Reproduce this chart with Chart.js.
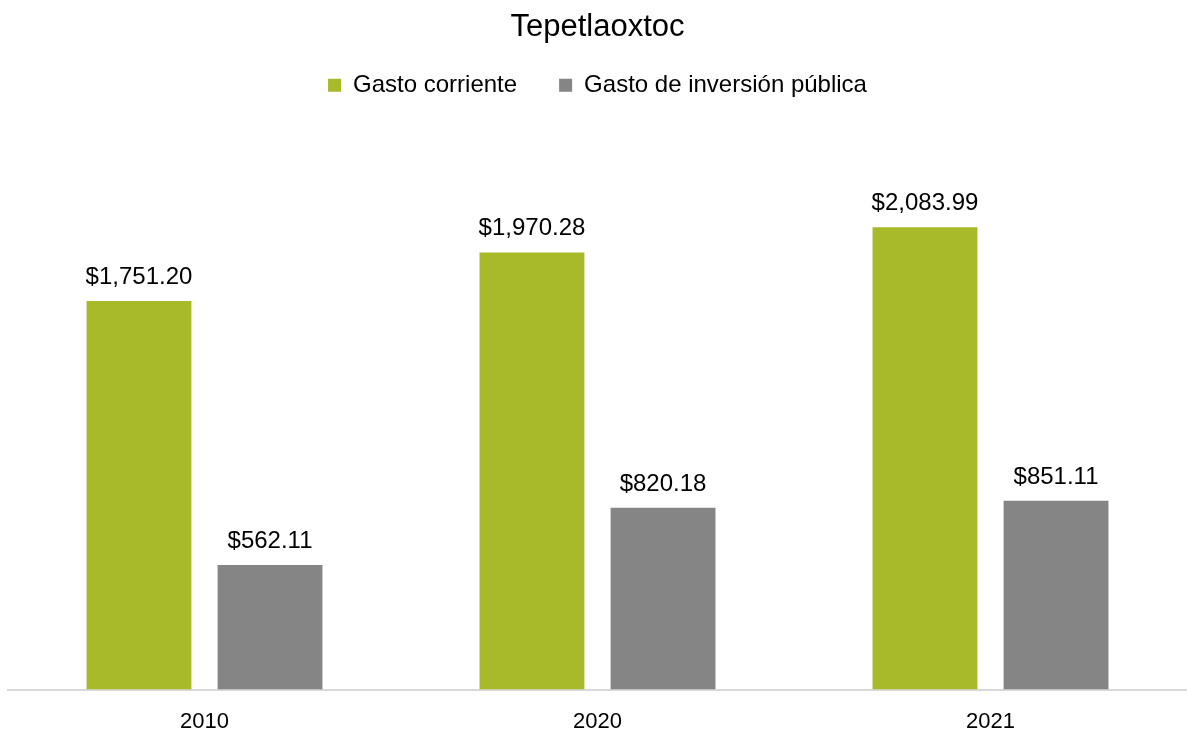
<!DOCTYPE html>
<html>
<head>
<meta charset="utf-8">
<script src="https://cdn.jsdelivr.net/npm/chart.js@4.4.0/dist/chart.umd.min.js"></script>
<style>
  html, body { margin: 0; padding: 0; background: #fff; }
  #wrap { width: 1187px; height: 733px; }
</style>
</head>
<body>
<div id="wrap"><canvas id="chart"></canvas></div>
<script>
// ===== Data =====
const years = ['2010', '2020', '2021'];
const gastoCorriente = [1751.20, 1970.28, 2083.99];
const gastoInversion = [562.11, 820.18, 851.11];

const FONT = '"Liberation Sans", Arial, sans-serif';
const fmt = (v) => '$' + v.toLocaleString('en-US', { minimumFractionDigits: 2, maximumFractionDigits: 2 });

// Draw value labels above bars
const valueLabels = {
  id: 'valueLabels',
  afterDatasetsDraw(chart) {
    const ctx = chart.ctx;
    ctx.save();
    ctx.font = '24px ' + FONT;
    ctx.fillStyle = '#000';
    ctx.textAlign = 'center';
    ctx.textBaseline = 'alphabetic';
    chart.data.datasets.forEach((ds, i) => {
      chart.getDatasetMeta(i).data.forEach((bar, j) => {
        ctx.fillText(fmt(ds.data[j]), bar.x, bar.y - 17);
      });
    });
    ctx.restore();
  }
};

const ctx = document.getElementById('chart').getContext('2d');
new Chart(ctx, {
  type: 'bar',
  data: {
    labels: years,
    datasets: [
      {
        label: 'Gasto corriente',
        data: gastoCorriente,
        backgroundColor: '#a8b92a',
        categoryPercentage: 0.667,
        barPercentage: 0.8
      },
      {
        label: 'Gasto de inversión pública',
        data: gastoInversion,
        backgroundColor: '#858585',
        categoryPercentage: 0.667,
        barPercentage: 0.8
      }
    ]
  },
  options: {
    responsive: true,
    maintainAspectRatio: false,
    animation: false,
    layout: { padding: { left: 8, right: 0, top: 0, bottom: -21 } },
    plugins: {
      title: {
        display: true,
        text: 'Tepetlaoxtoc',
        color: '#000',
        font: { family: FONT, size: 31, weight: 'normal' },
        padding: { top: 9, bottom: -15 }
      },
      legend: {
        display: true,
        labels: {
          color: '#000',
          font: { family: FONT, size: 24 },
          boxWidth: 13,
          boxHeight: 13,
          padding: 42
        }
      },
      tooltip: { enabled: false }
    },
    scales: {
      x: {
        grid: { display: false, drawTicks: false },
        border: { display: true, color: '#d9d9d9', width: 2 },
        ticks: {
          color: '#000',
          font: { family: FONT, size: 22 },
          padding: 19
        }
      },
      y: {
        display: false,
        min: 0,
        max: 2625
      }
    }
  },
  plugins: [valueLabels]
});
</script>
</body>
</html>
